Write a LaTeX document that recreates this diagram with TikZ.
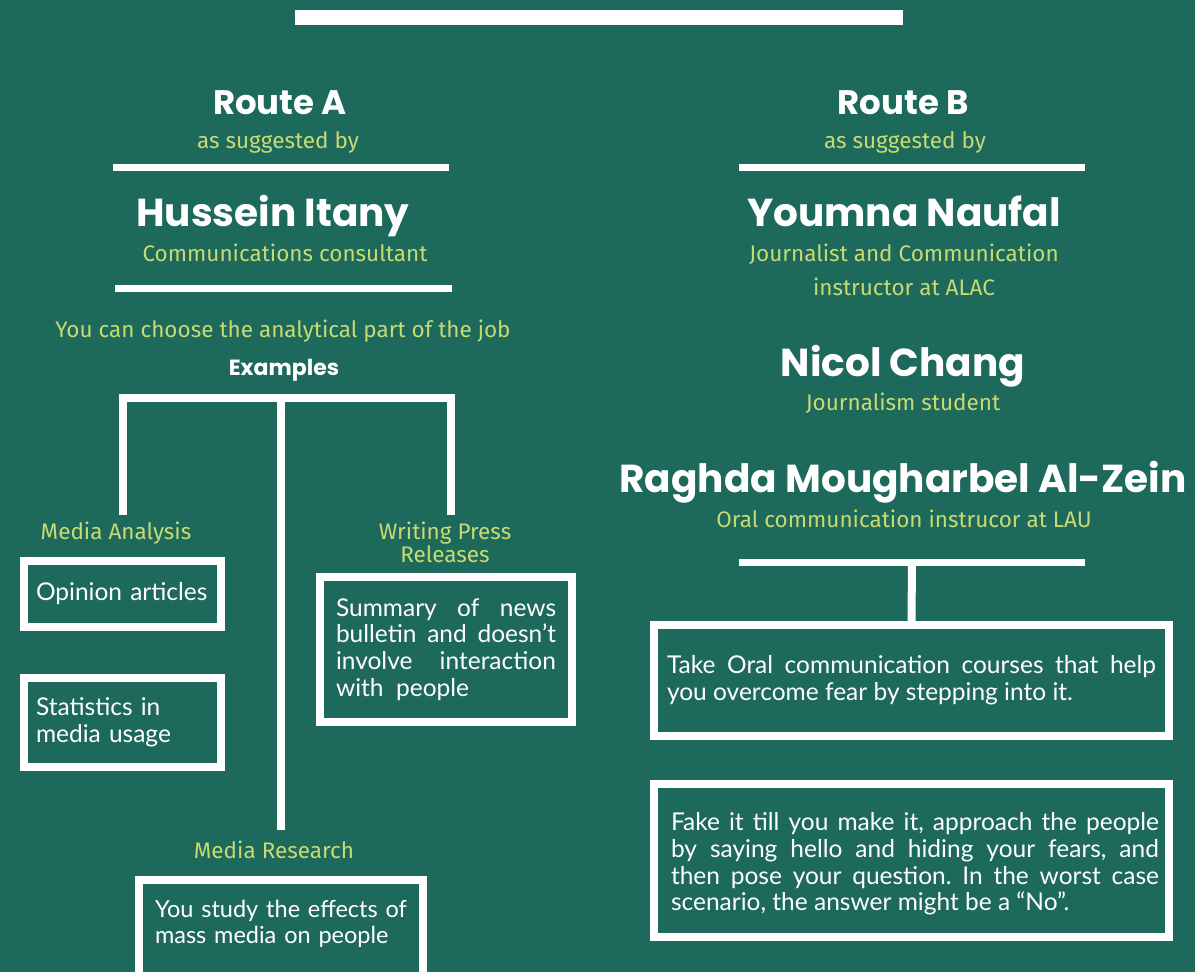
\documentclass[tikz,border=0pt]{standalone}
\usepackage{fontspec}
\setmainfont{Lato}
\newfontfamily\headfont{Poppins}
\newfontfamily\tagfont{Fira Sans}
\usetikzlibrary{positioning}
\definecolor{routebg}{HTML}{1D695B}
\definecolor{routeyel}{HTML}{C8DA72}
\frenchspacing

\begin{document}
\begin{tikzpicture}[x=1pt, y=-1pt,
  route/.style={text=white, anchor=base, inner sep=0pt, font=\headfont\bfseries\fontsize{34}{38}\selectfont},
  person/.style={text=white, anchor=base, inner sep=0pt, font=\headfont\bfseries\fontsize{39}{44}\selectfont},
  tag/.style={text=routeyel, anchor=base, inner sep=0pt, font=\tagfont\fontsize{22.5}{26}\selectfont},
  card/.style={draw=white, line width=8pt, inner sep=0pt},
  cardtext/.style={text=white, inner sep=0pt, align=justify, font=\fontsize{24.5}{26.7}\selectfont},
  sepbar/.style={draw=white, line width=7pt},
  link/.style={draw=white, line width=8pt}]

  % background and frame
  \fill[routebg] (0,0) rectangle (1195,972);
  \useasboundingbox (0,0) rectangle (1195,972);
  \clip (0,0) rectangle (1195,972);
  \draw[white, line width=15pt] (295,17.5) -- (903,17.5);

  % Route A
  \node[route] (routeA) at (280,114) {Route A};
  \node[tag] (byA) at (278,148) {as suggested by};
  \draw[sepbar] (113,167) -- (449,167);
  \node[person] (hussein) at (273,226) {Hussein Itany};
  \node[tag] (husseinjob) at (285,261) {Communications consultant};
  \draw[sepbar] (115,288) -- (452,288);
  \node[tag] (choose) at (283,337) {You can choose the analytical part of the job};
  \node[text=white, anchor=base, inner sep=0pt, font=\headfont\bfseries\fontsize{22}{26}\selectfont] (examples) at (284,375) {Examples};

  % fork under the examples
  \coordinate (forkL) at (123,398);
  \coordinate (forkM) at (281,398);
  \coordinate (forkR) at (451,398);
  \coordinate (endL) at (123,515);
  \coordinate (endM) at (281,830);
  \coordinate (endR) at (451,515);
  \draw[link] (endL) -- (forkL) -- (forkR) -- (endR);
  \draw[link] (forkM) -- (endM);

  \node[tag] (analysis) at (116,539) {Media Analysis};
  \node[tag, align=center, anchor=north, font=\tagfont\fontsize{22.5}{21}\selectfont] (press) at (445,522) {Writing Press\\Releases};
  \node[tag] (research) at (274,858) {Media Research};

  \node[card, minimum width=197, minimum height=66] (opinion) at (122.5,594) {};
  \node[cardtext, text width=173, align=left] at (opinion) {Opinion articles};
  \node[card, minimum width=197, minimum height=89] (stats) at (122.5,722.5) {};
  \node[cardtext, text width=173, align=left] at (stats) {Statistics in\\media usage};
  \node[card, minimum width=252, minimum height=145] (summary) at (446,649.5) {};
  \node[cardtext, text width=220] at (summary) {Summary of news\linebreak bulletin and doesn't\linebreak involve interaction\linebreak with~~people};
  \node[card, minimum width=284, minimum height=140] (study) at (281,950) {};
  \node[cardtext, text width=256, align=left, font=\fontsize{23.5}{26.7}\selectfont] at (283,924) {You study the effects of\\mass media on people};

  % Route B
  \node[route] (routeB) at (903,114) {Route B};
  \node[tag] (byB) at (905,148) {as suggested by};
  \draw[sepbar] (739,167) -- (1085,167);
  \node[person] (youmna) at (904,226) {Youmna Naufal};
  \node[tag] (youmnajob) at (904,261) {Journalist and Communication};
  \node[tag] (youmnajob2) at (904,295) {instructor at ALAC};
  \node[person] (nicol) at (903,376) {Nicol Chang};
  \node[tag] (nicoljob) at (903,410) {Journalism student};
  \node[person] (raghda) at (903,492) {Raghda Mougharbel Al-Zein};
  \node[tag] (raghdajob) at (904,527) {Oral communication instrucor at LAU};
  \draw[sepbar] (739,562) -- (1085,562);
  \coordinate (stem) at (912,562);

  \node[card, minimum width=515, minimum height=111] (take) at (911.5,680.5) {};
  \node[cardtext, text width=489] at (take) {Take Oral communication courses that help\linebreak you overcome fear by stepping into it.};
  \node[card, minimum width=515, minimum height=153] (fake) at (911.5,860.5) {};
  \node[cardtext, text width=488] at (915,864) {Fake it till you make it, approach the people\linebreak by saying hello and hiding your fears, and\linebreak then pose your question. In the worst case\linebreak scenario, the answer might be a “No”.};
  \draw[link] (stem) -- (take.north);
\end{tikzpicture}
\end{document}
